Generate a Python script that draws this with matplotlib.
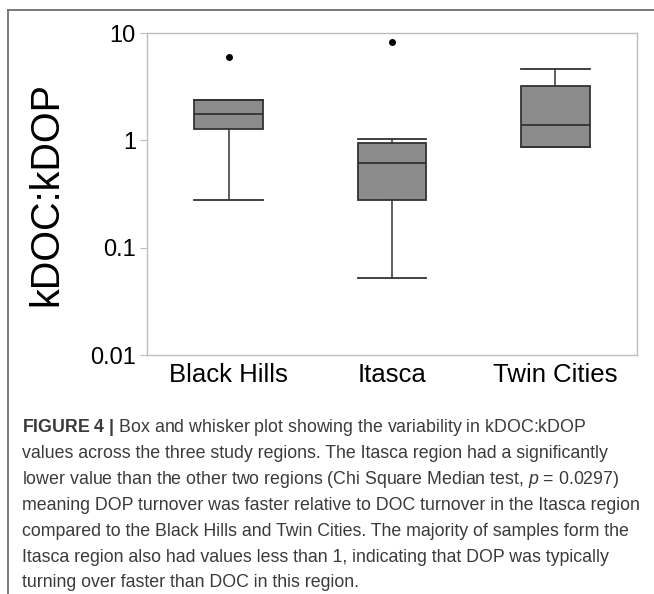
import matplotlib
matplotlib.use("Agg")
import matplotlib.pyplot as plt
from matplotlib.lines import Line2D

plt.rcParams["font.family"] = ["Liberation Sans", "DejaVu Sans"]
plt.rcParams["mathtext.fontset"] = "custom"
plt.rcParams["mathtext.rm"] = "Liberation Sans"
plt.rcParams["mathtext.it"] = "Liberation Sans:italic"
plt.rcParams["mathtext.bf"] = "Liberation Sans:bold"

# box statistics (log scale)
regions = ["Black Hills", "Itasca", "Twin Cities"]
whisker_low = [0.28, 0.052, 0.86]
q1 = [1.27, 0.28, 0.86]
median = [1.75, 0.62, 1.38]
q3 = [2.37, 0.94, 3.2]
whisker_high = [2.37, 1.04, 4.6]
outliers = [[6.0], [8.2], []]

caption_lines = [
    r"$\mathbf{FIGURE\ 4\ |}$ Box and whisker plot showing the variability in kDOC:kDOP",
    "values across the three study regions. The Itasca region had a significantly",
    r"lower value than the other two regions (Chi Square Median test, $p$ = 0.0297)",
    "meaning DOP turnover was faster relative to DOC turnover in the Itasca region",
    "compared to the Black Hills and Twin Cities. The majority of samples form the",
    "Itasca region also had values less than 1, indicating that DOP was typically",
    "turning over faster than DOC in this region.",
]

W, H = 654, 594
fig = plt.figure(figsize=(W / 100, H / 100), dpi=100)

# page frame (top and left rules)
frame_col = "#6e6e6e"
fig.add_artist(Line2D([8 / W, 1.0], [1 - 10 / H, 1 - 10 / H],
                      color=frame_col, lw=1.3, transform=fig.transFigure))
fig.add_artist(Line2D([8 / W, 8 / W], [0.0, 1 - 10 / H],
                      color=frame_col, lw=1.3, transform=fig.transFigure))

ax = fig.add_axes([147 / W, 1 - 355 / H, 490 / W, 322 / H])

stats = []
for i, name in enumerate(regions):
    stats.append({
        "label": name, "whislo": whisker_low[i], "q1": q1[i], "med": median[i],
        "q3": q3[i], "whishi": whisker_high[i], "fliers": outliers[i],
    })

dark = "#333333"
ax.bxp(stats, positions=[1, 2, 3], widths=0.42, patch_artist=True,
       boxprops=dict(facecolor="#8c8c8c", edgecolor=dark, linewidth=1.3),
       medianprops=dict(color=dark, linewidth=1.3),
       whiskerprops=dict(color=dark, linewidth=1.1),
       capprops=dict(color=dark, linewidth=1.3),
       capwidths=0.42,
       flierprops=dict(marker="o", markerfacecolor="black",
                       markeredgecolor="black", markersize=4))

ax.set_yscale("log")
ax.set_ylim(0.01, 10)
ax.set_xlim(0.5, 3.5)
ax.set_yticks([0.01, 0.1, 1, 10])
ax.set_yticklabels(["0.01", "0.1", "1", "10"])
ax.minorticks_off()
ax.tick_params(axis="y", length=5, color="#bdbdbd", labelsize=17, pad=3)
ax.tick_params(axis="x", length=0, labelsize=18.5, pad=6)
for sp in ax.spines.values():
    sp.set_color("#bdbdbd")
    sp.set_linewidth(1.0)
ax.set_ylabel("kDOC:kDOP", fontsize=28.5, labelpad=18)

# caption
y0 = 428
for k, line in enumerate(caption_lines):
    fig.text(22 / W, 1 - (y0 + k * 25.8) / H, line, fontsize=12.8,
             color="#3a3a3a", ha="left", va="center")

fig.savefig("out.png", dpi=100)
